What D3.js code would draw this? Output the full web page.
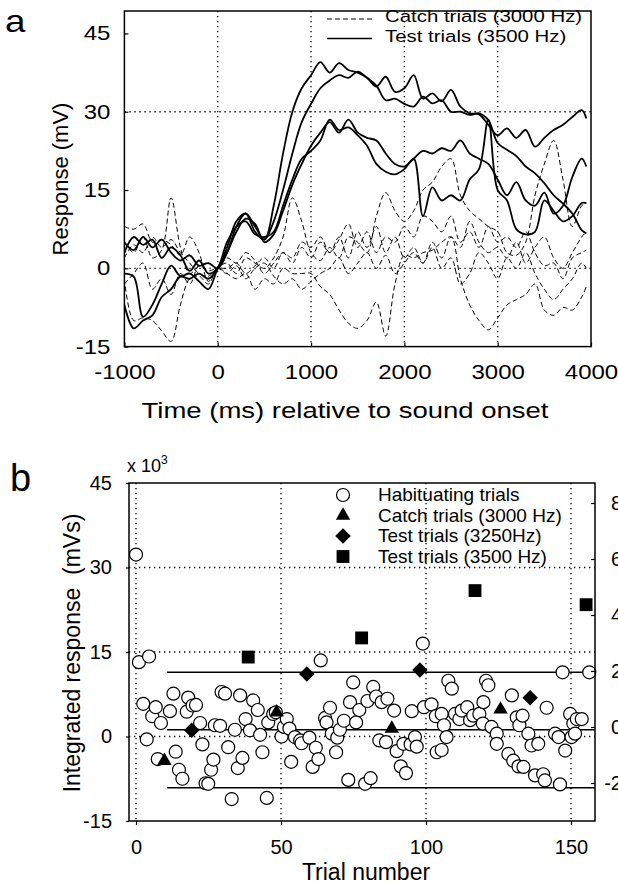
<!DOCTYPE html>
<meta charset="utf-8">
<style>
body { margin: 0; background: #fff; font-family: 'Liberation Sans', Arial, sans-serif; }
svg text { fill: #000; }
.grid { stroke: #000; stroke-width: 1.3; stroke-dasharray: 1.3,3.7; fill: none; }
.frame { fill: none; stroke: #000; stroke-width: 1.5; }
.axis text { font-family: 'Liberation Sans', Arial, sans-serif; font-size: 20px; }
.axis line { stroke: #000; stroke-width: 1.2; }
</style>
<body>
<script src="https://cdn.jsdelivr.net/npm/d3@7"></script>
<script>
// ---------- panel a data (mV vs ms) ----------
var timeA = [-1000,-900,-800,-700,-600,-500,-400,-300,-200,-100,0,100,200,300,400,500,600,700,800,900,
  1000,1100,1200,1300,1400,1500,1600,1700,1800,1900,2000,2100,2200,2300,2400,2500,2600,2700,2800,2900,
  3000,3100,3200,3300,3400,3500,3600,3700,3800,3900,3950];

// test trials (3500 Hz), solid
var test1 = [5,3.5,6,4,5.5,3,1.5,2.5,0.5,1,0,3,8,10.5,7,5.5,12,22,30,34.5,
  37,39.5,37.5,39.3,38,37.5,36.5,34.8,36.7,33.8,34.5,37,32.5,33.5,32,34.2,31,29.7,29.5,27.5,
  25.5,26.8,25,26.5,23.3,25,26.5,27.5,29,30.3,28.7];
var test2 = [3,6,4.5,5.5,2,4,2.5,-0.5,1.5,-1,0,4,9,10.5,8,5.5,9,15,22,28,
  31.5,34.5,36,37,36.5,37.7,36.5,35,32.2,32.5,31.5,31,32.9,31.6,32.2,30,30,29.4,29.7,28.4,
  24,22.7,21.5,19.5,18.2,16.3,14,12.4,10.5,7.3,6.7];
var test3 = [-1,-1.6,-9.3,-7,-3,0.5,-1.5,-1,-2.5,-4,0,3,7,9.5,8.5,5,6.5,11,16,20,
  23.5,26,28,26,28.5,26,25,24.5,22,20,19.5,21,22.5,22,23,22.5,24.5,22,21,20,
  17,14,16.5,13,12,14.5,10.5,12,17.5,21,19.5];
var test4 = [-7,-11.5,-10,-9,-5.5,-4,-1.6,-2,-1,-2,0,5,8,9,6.5,6,7,12,17,21,
  22.5,24.5,28.5,26.5,27,25.5,23.5,20,18.5,18,19,21,10,15.5,13,14,13,17,19,28.5,
  15,13,7.5,6.5,7,13,11,9,10,12.5,12.5];

// catch trials (3000 Hz), dashed
var catch1 = [8,7.5,8.5,5,5.5,4.5,2.5,6,3,-2.5,0,1,-1,2,1,0,2,6,13.5,9,
  3,1.5,4,2,6,5,3,10,14.5,11,9,11,15,16.5,19.5,21,14,11,9.5,8,
  7,3,2.5,5,14,20,24.5,17,8,12,12.5];
var catch2 = [5,3,6,2,3.5,13.5,4,-1,0.5,1,0,2,1,3,1.5,-1,1,3,2,5,
  4,6,3,5.5,8.5,4,7,3,6,5,8,6,10,9,7,10,5,7,4,8,
  5,6,4,7,3,0.5,1,-2,2,3,3.5];
var catch3 = [-2,-10,-9.5,-10,-12,-14,-7,-2,-1.5,-3,0,-1,-2,-1,-4,-2,-3,0,-1,-1,
  -1,-3.5,-5,-8,-10.5,-11.5,-10,-6.5,-13,-3,2.5,2,3,3.5,5,6,-2,-7,-10,-11.8,
  -9.5,-7,-6,-5,-3,-8,-9,-7.5,-8,-5.5,-3.5];
var catch4 = [2,4.5,3,6,4,5.5,3,1,-1,-1.5,0,0,1,-1,0.5,2,0,3,1,4,
  2,5,3,6,2,7,4,8,3,6,2,4,1,5,2,6,4,9,5,3,
  4,2,5,1,4,6,2,0,3,6,7];
var catch5 = [-3,-1,1,-4,-2,-5,-1,-3,0.5,-0.5,0,-1,0.5,-2,0,1,-1.5,-3,-2,-4,
  -2.5,-1,0,2,-1,1,3,0,2.5,-1,1,3,1,4,0,2,-3,-1,3,1,
  -2,2,0,3,-1,-4,-6,-4,-2,1,0];

var solidSeries = [test1, test2, test3, test4];
var dashedSeries = [catch1, catch2, catch3, catch4, catch5];

var xTicksA = [-1000, 0, 1000, 2000, 3000, 4000];
var yTicksA = [-15, 0, 15, 30, 45];
var gridXA = [0, 1000, 2000, 3000];
var gridYA = [0, 30];
var legendA = ["Catch trials (3000 Hz)", "Test trials (3500 Hz)"];

// ---------- panel b data (x10^3 mVs vs trial) ----------
var habitTrials = [0,1,2.5,3.7,4.5,5.6,6.8,7.5,8.6,11.7,12.9,13.7,14.8,16,17.5,18,19.5,20.7,22.1,22.9,
  24,24.9,25.9,26.7,27.2,29,29.5,30.7,31.8,33,34.1,35.1,35.9,36.7,37.8,39.3,40.4,42,42.8,43.6,
  45.1,45.6,47.3,48.2,50.2,51,52,52.9,53.5,54.8,56.6,57.1,59.8,60.9,62,62.9,63.7,65.2,65.7,66.9,
  67.5,69,69.4,70.3,71.7,73.2,73.8,74.9,75.9,77,79,79.8,80.9,81.8,82.8,83.9,84.7,86.2,86.7,89,
  89.9,91.3,92.2,93.1,94.7,95.1,96.2,96.8,98.9,99.3,101.9,103.4,103.7,105.4,105.4,106.2,107.1,107.7,108.9,110,
  111.5,112.3,114.2,115.2,116.3,118.4,119.6,119.8,120.7,121.5,122.6,124.4,124.4,128.4,129.6,130.1,131.3,131.9,132.2,133.3,
  133.6,135.3,136.4,137.6,138.7,140.4,141,141.6,144.5,145.7,146.2,147.1,148,149.7,150.2,150.8,151.4,152,153.7,156.3];
var habitValues = [32.3,13.2,5.8,-0.5,14.2,3.6,5.2,-4,2.4,4.5,7.6,-2.7,-5.9,-7.5,4.4,6.9,5.5,5.6,2.4,-1.4,
  -8.3,-8.4,-5.9,-4.1,2,1.9,7.9,7.6,-1.9,-11.1,1.2,-5.6,7.3,-3.8,3.1,1.1,6.4,4.7,0.3,-2.8,
  -10.9,2.5,4,4.3,0,1.7,3.1,1.4,-4.5,-0.1,-0.7,-1.2,-0.2,-5.4,-2,-4,13.5,3.3,2.5,5.1,
  0.5,-2.8,-0.2,1.2,2.8,-7.7,6.1,9.6,2.5,4.7,-8.4,6.3,-7.4,8.8,7.1,-0.7,6.1,-1,6.7,4.6,
  -2.6,-5.3,-1.3,-6.5,-1.4,4.5,-0.1,-1.8,16.5,5.2,5.7,3.6,-2.8,4,-2.4,2,-0.1,9.9,8.5,4,
  3.1,4.6,5.2,2.9,3.7,4,2.3,6.1,9.9,9.1,1.7,0.5,-1.3,-3.1,7.3,-4.3,3.4,-5.3,2,3.7,
  -5.4,0.5,-1.6,-6.9,-1.3,-6.7,-7.8,5.1,0.5,-0.1,-8.5,11.4,-2.5,4,-0.1,2.3,0.5,3.1,3.1,11.4];

var catchTrials = [9.8, 48.5, 88.2, 125.7];
var catchValues = [-4.3, 4.3, 1.4, 4.8];
var t3250Trials = [19.2, 58.9, 97.9, 135.9];
var t3250Values = [1.1, 11.1, 11.8, 6.9];
var t3500Trials = [38.7, 77.8, 116.9, 155.2];
var t3500Values = [14.1, 17.5, 25.9, 23.4];

var refLevels = [11.4, 1.2, -9.1];
var refStart = 10.7;

var xTicksB = [0, 50, 100, 150];
var yTicksB = [-15, 0, 15, 30, 45];
var gridXB = [0, 50, 100, 150];
var gridYB = [0, 15, 30];
var rightTicksB = [-2, 0, 2, 4, 6, 8];
var legendB = ["Habituating trials", "Catch trials (3000 Hz)", "Test trials (3250Hz)", "Test trials (3500 Hz)"];

// ---------- drawing ----------
var W = 618, H = 888;
var svg = d3.select("body").append("svg").attr("width", W).attr("height", H);

// panel a lettering is wider than it is tall in the scan
var stretchA = 1.2;

function wideText(g, x, y, size, sx, str, anchor) {
  return g.append("text")
    .attr("transform", "translate(" + x + "," + y + ") scale(" + sx + ",1)")
    .attr("text-anchor", anchor || "start")
    .style("font-size", size + "px")
    .text(str);
}

// ===== panel a =====
var xA = d3.scaleLinear().domain([-1000, 4000]).range([124.4, 591]);
var yA = d3.scaleLinear().domain([-15, 49.3]).range([346.6, 11]);

var gA = svg.append("g");

gA.append("clipPath").attr("id", "clipA").append("rect")
  .attr("x", xA(-1000)).attr("y", yA(49.3))
  .attr("width", xA(4000) - xA(-1000)).attr("height", yA(-15) - yA(49.3));

gA.selectAll(".gx").data(gridXA).enter().append("line").attr("class", "grid")
  .attr("x1", d => xA(d)).attr("x2", d => xA(d)).attr("y1", yA(49.3)).attr("y2", yA(-15));
gA.selectAll(".gy").data(gridYA).enter().append("line").attr("class", "grid")
  .attr("x1", xA(-1000)).attr("x2", xA(4000)).attr("y1", d => yA(d)).attr("y2", d => yA(d));

var lineA = d3.line()
  .x((d, i) => xA(timeA[i]))
  .y(d => yA(d))
  .curve(d3.curveCatmullRom.alpha(0.5));

var linesG = gA.append("g").attr("clip-path", "url(#clipA)");
linesG.selectAll(".dash").data(dashedSeries).enter().append("path")
  .attr("d", lineA).attr("fill", "none").attr("stroke", "#000")
  .attr("stroke-width", 1).attr("stroke-dasharray", "5,3");
linesG.selectAll(".solid").data(solidSeries).enter().append("path")
  .attr("d", lineA).attr("fill", "none").attr("stroke", "#000")
  .attr("stroke-width", 1.8).attr("stroke-linejoin", "round");

gA.append("rect").attr("class", "frame")
  .attr("x", xA(-1000)).attr("y", yA(49.3))
  .attr("width", xA(4000) - xA(-1000)).attr("height", yA(-15) - yA(49.3));

var axLA = gA.append("g").attr("class", "axis")
  .attr("transform", "translate(" + xA(-1000) + ",0)")
  .call(d3.axisLeft(yA).tickValues(yTicksA).tickSize(-4).tickPadding(14).tickFormat(d => String(d)));
axLA.select(".domain").remove();
axLA.selectAll("text").attr("x", 0).attr("transform", "translate(-14,0) scale(" + stretchA + ",1)");

var axBA = gA.append("g").attr("class", "axis")
  .attr("transform", "translate(0," + yA(-15) + ")")
  .call(d3.axisBottom(xA).tickValues(xTicksA).tickSize(-4).tickPadding(18).tickFormat(d => String(d)));
axBA.select(".domain").remove();
axBA.selectAll("text").attr("transform", "scale(" + stretchA + ",1)");

wideText(gA, 345, 418, 22, 1.25, "Time (ms) relative to sound onset", "middle");
gA.append("text").attr("transform", "translate(68,179) rotate(-90)").attr("text-anchor", "middle")
  .style("font-size", "22px").text("Response (mV)");
wideText(gA, 5, 32, 32, 1.15, "a");

// legend a
var legA = gA.append("g");
legA.append("line").attr("x1", 327).attr("x2", 372).attr("y1", 19).attr("y2", 19)
  .attr("stroke", "#000").attr("stroke-width", 1).attr("stroke-dasharray", "5,3");
legA.append("line").attr("x1", 327).attr("x2", 372).attr("y1", 38.5).attr("y2", 38.5)
  .attr("stroke", "#000").attr("stroke-width", 1.6);
legendA.forEach(function(d, i) {
  wideText(legA, 385, 22 + i * 19.5, 17, 1.2, d);
});

// ===== panel b =====
var xB = d3.scaleLinear().domain([0, 150]).range([136, 571]);
var yB = d3.scaleLinear().domain([-15, 45]).range([821, 483]);
var yR = d3.scaleLinear().domain([-2, 8]).range([783, 503]);
var bxL = 129, bxR = 595;

var gB = svg.append("g");

gB.selectAll(".gx").data(gridXB).enter().append("line").attr("class", "grid")
  .attr("x1", d => xB(d)).attr("x2", d => xB(d)).attr("y1", yB(45)).attr("y2", yB(-15));
gB.selectAll(".gy").data(gridYB).enter().append("line").attr("class", "grid")
  .attr("x1", bxL).attr("x2", bxR).attr("y1", d => yB(d)).attr("y2", d => yB(d));

gB.selectAll(".ref").data(refLevels).enter().append("line")
  .attr("x1", xB(refStart)).attr("x2", bxR)
  .attr("y1", d => yB(d)).attr("y2", d => yB(d))
  .attr("stroke", "#000").attr("stroke-width", 1.6);

gB.selectAll(".hab").data(habitTrials).enter().append("circle")
  .attr("cx", d => xB(d)).attr("cy", (d, i) => yB(habitValues[i]))
  .attr("r", 6.5).attr("fill", "#fff").attr("stroke", "#000").attr("stroke-width", 1.2);

var triSym = d3.symbol(d3.symbolTriangle).size(90);
var sqSym = d3.symbol(d3.symbolSquare).size(165);
var diaSym = d3.symbol(d3.symbolSquare).size(120);

gB.selectAll(".tri").data(catchTrials).enter().append("path")
  .attr("d", triSym).attr("fill", "#000")
  .attr("transform", (d, i) => "translate(" + xB(d) + "," + yB(catchValues[i]) + ")");
gB.selectAll(".dia").data(t3250Trials).enter().append("path")
  .attr("d", diaSym).attr("fill", "#000")
  .attr("transform", (d, i) => "translate(" + xB(d) + "," + yB(t3250Values[i]) + ") rotate(45)");
gB.selectAll(".sq").data(t3500Trials).enter().append("path")
  .attr("d", sqSym).attr("fill", "#000")
  .attr("transform", (d, i) => "translate(" + xB(d) + "," + yB(t3500Values[i]) + ")");

gB.append("rect").attr("class", "frame")
  .attr("x", bxL).attr("y", yB(45)).attr("width", bxR - bxL).attr("height", yB(-15) - yB(45));

var axLB = gB.append("g").attr("class", "axis")
  .attr("transform", "translate(" + bxL + ",0)")
  .call(d3.axisLeft(yB).tickValues(yTicksB).tickSize(3).tickPadding(14).tickFormat(d => String(d)));
axLB.select(".domain").remove();
axLB.selectAll("text").attr("x", -17);

var axBB = gB.append("g").attr("class", "axis")
  .attr("transform", "translate(0," + yB(-15) + ")")
  .call(d3.axisBottom(xB).tickValues(xTicksB).tickSize(4).tickPadding(15));
axBB.select(".domain").remove();

var axRB = gB.append("g").attr("class", "axis")
  .attr("transform", "translate(" + bxR + ",0)")
  .call(d3.axisRight(yR).tickValues(rightTicksB).tickSize(-4).tickPadding(0).tickFormat(d => String(d)));
axRB.select(".domain").remove();
axRB.selectAll("text").attr("x", 27).attr("text-anchor", "end");

gB.append("text").attr("x", 366).attr("y", 880).attr("text-anchor", "middle")
  .style("font-size", "23px").text("Trial number");
gB.append("text").attr("transform", "translate(80,653) rotate(-90)").attr("text-anchor", "middle")
  .style("font-size", "23px").text("Integrated response \u00a0(mVs)");
gB.append("text").attr("x", 10).attr("y", 491).style("font-size", "38px").text("b");

var mult = gB.append("text").attr("x", 127).attr("y", 472).style("font-size", "18px");
mult.append("tspan").text("x 10");
mult.append("tspan").attr("dy", -8).style("font-size", "12px").text("3");

// legend b
var legB = gB.append("g");
var legY = [495, 515.5, 536, 556.5];
legB.append("circle").attr("cx", 343).attr("cy", legY[0]).attr("r", 6.5)
  .attr("fill", "#fff").attr("stroke", "#000").attr("stroke-width", 1.2);
legB.append("path").attr("d", triSym).attr("fill", "#000")
  .attr("transform", "translate(343," + legY[1] + ")");
legB.append("path").attr("d", diaSym).attr("fill", "#000")
  .attr("transform", "translate(343," + legY[2] + ") rotate(45)");
legB.append("path").attr("d", sqSym).attr("fill", "#000")
  .attr("transform", "translate(343," + legY[3] + ")");
legB.selectAll("text").data(legendB).enter().append("text")
  .attr("x", 378).attr("y", (d, i) => legY[i] + 6)
  .style("font-size", "19px").text(d => d);
</script>
</body>
